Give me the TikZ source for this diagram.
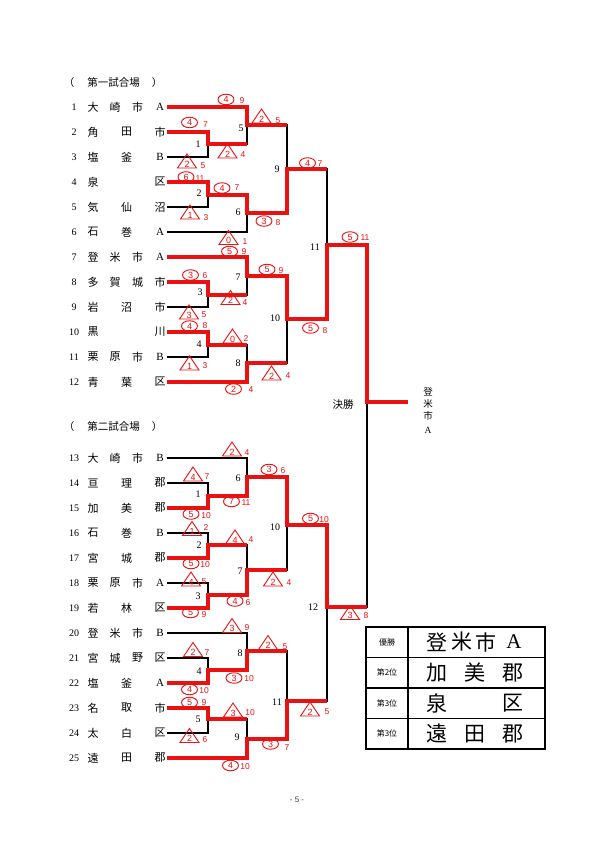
\documentclass[tikz,border=0pt]{standalone}
\usepackage{fontspec}
\setmainfont{Liberation Serif}
\newfontfamily\jpf{Noto Sans CJK JP}
\newfontfamily\rsf{Liberation Sans}
\usetikzlibrary{shapes.geometric,calc}
\definecolor{rd}{RGB}{232,18,18}
\newcommand\LatA{{\rmfamily A}}
\newcommand\LatB{{\rmfamily B}}
\tikzset{
 rl/.style={draw=rd, line width=3.6pt},
 bl/.style={draw=black, line width=1.6pt},
 nm/.style={font=\jpf\fontsize{11}{11}\selectfont, inner sep=0pt},
 no/.style={font=\fontsize{10}{10}\selectfont, inner sep=0pt},
 ml/.style={font=\fontsize{10}{10}\selectfont, inner sep=0pt},
 hd/.style={font=\jpf\fontsize{10.5}{10.5}\selectfont, inner sep=0pt},
 cn/.style={ellipse, draw=rd, line width=0.9pt, minimum width=16pt, minimum height=10.5pt, inner sep=0pt, text=rd, font=\rsf\fontsize{9}{9}\selectfont},
 tn/.style={inner sep=0pt, text=rd, font=\rsf\fontsize{9}{9}\selectfont},
 trl/.style={draw=rd, line width=0.9pt, line join=miter},
 sn/.style={inner sep=0pt, text=rd, font=\rsf\fontsize{8.5}{8.5}\selectfont},
 tbl/.style={draw=black, line width=1.8pt},
 tl/.style={font=\jpf\fontsize{8}{8}\selectfont, inner sep=0pt},
 tr/.style={font=\jpf\fontsize{21}{21}\selectfont, inner sep=0pt},
 vw/.style={font=\jpf\fontsize{9.5}{9.5}\selectfont, inner sep=0pt},
}
\newcommand\ScCirc[7]{\node[cn] (#1) at (#2,#3) {#4}; \node[sn] (#1s) at (#5,#6) {#7};}
\newcommand\ScTri[7]{\node[tn,yshift=-3pt] (#1) at (#2,#3) {#4};
 \draw[trl] ([shift={(-9.5,4)}]#1.center) -- ([shift={(9.5,4)}]#1.center) -- ([shift={(0,-10)}]#1.center) -- cycle;
 \node[sn] (#1s) at (#5,#6) {#7};}
\begin{document}
\begin{tikzpicture}[x=1pt,y=-1pt]
\useasboundingbox (0,0) rectangle (595,842);
\fill[white] (0,0) rectangle (595,842);

% headers
\node[hd] (h1l) at (69,83) {（};
\node[hd] (h1) at (113.5,83) {第一試合場};
\node[hd] (h1r) at (157,83) {）};
\node[hd] (h2l) at (69,427) {（};
\node[hd] (h2) at (113.5,427) {第二試合場};
\node[hd] (h2r) at (157,427) {）};

% teams
\foreach \n/\y/\a/\b/\c/\d in {1/107/大/崎/市/\LatA, 7/257/登/米/市/\LatA, 8/282/多/賀/城/市, 11/357/栗/原/市/\LatB, 13/458/大/崎/市/\LatB, 18/583/栗/原/市/\LatA, 20/633/登/米/市/\LatB, 21/658/宮/城/野/区}{
 \node[no] (n\n) at (74,\y) {\n};
 \node[nm] (n\n-a) at (93,\y) {\a};
 \node[nm] (n\n-b) at (115,\y) {\b};
 \node[nm] (n\n-c) at (137.5,\y) {\c};
 \node[nm] (n\n-d) at (160,\y) {\d};
 \coordinate (t\n) at (167,\y);
}
\foreach \n/\y/\a/\b/\c in {2/132/角/田/市, 3/157/塩/釜/\LatB, 5/207/気/仙/沼, 6/232/石/巻/\LatA, 9/307/岩/沼/市, 12/382/青/葉/区, 14/483/亘/理/郡, 15/508/加/美/郡, 16/533/石/巻/\LatB, 17/558/宮/城/郡, 19/608/若/林/区, 22/683/塩/釜/\LatA, 23/708/名/取/市, 24/733/太/白/区, 25/758/遠/田/郡}{
 \node[no] (n\n) at (74,\y) {\n};
 \node[nm] (n\n-a) at (93,\y) {\a};
 \node[nm] (n\n-b) at (126.5,\y) {\b};
 \node[nm] (n\n-c) at (160,\y) {\c};
 \coordinate (t\n) at (167,\y);
}
\foreach \n/\y/\a/\b in {4/182/泉/区, 10/332/黒/川}{
 \node[no] (n\n) at (74,\y) {\n};
 \node[nm] (n\n-a) at (93,\y) {\a};
 \node[nm] (n\n-b) at (160,\y) {\b};
 \coordinate (t\n) at (167,\y);
}

% match points
\coordinate (A1) at (208,144);
\coordinate (A2) at (208,195);
\coordinate (A3) at (208,295);
\coordinate (A4) at (208,345);
\coordinate (A5) at (247,125);
\coordinate (A6) at (247,213);
\coordinate (A7) at (247,276);
\coordinate (A8) at (247,363);
\coordinate (A9) at (287,169);
\coordinate (A10) at (287,319);
\coordinate (A11) at (327,245);
\coordinate (F) at (367,402);
\coordinate (champ) at (408,402);
\coordinate (B1) at (208,496);
\coordinate (B2) at (208,545);
\coordinate (B3) at (208,595);
\coordinate (B4) at (208,670);
\coordinate (B5) at (208,719);
\coordinate (B6) at (247,477);
\coordinate (B7) at (247,570);
\coordinate (B8) at (247,651);
\coordinate (B9) at (247,739);
\coordinate (B10) at (287,525);
\coordinate (B11) at (287,701);
\coordinate (B12) at (327,607);

% losers
\foreach \m/\l in {A1/t3,A2/t5,A3/t9,A4/t11,A5/A1,A6/t6,A7/A3,A8/A4,A9/A5,A10/A8,A11/A9,F/B12,B1/t14,B2/t16,B3/t18,B4/t21,B5/t24,B6/t13,B7/B2,B8/t20,B9/B5,B10/B7,B11/B8,B12/B11}
 \draw[bl] (\l) -| (\m);
\foreach \m/\l in {A5/A1,A8/A4,A9/A5,A10/A8,A11/A9,F/B12,B7/B2,B9/B5,B10/B7,B11/B8,B12/B11}
 \draw[rl] (\l) -- (\l -| \m);
% winners
\foreach \m/\w/\n in {A1/t2/A5, A2/t4/A6, A3/t8/A7, A4/t10/A8, A5/t1/A9, A6/A2/A9, A7/t7/A10, A8/t12/A10, A9/A6/A11, A10/A7/A11, A11/A10/F, B1/t15/B6, B2/t17/B7, B3/t19/B7, B4/t22/B8, B5/t23/B9, B6/B1/B10, B7/B3/B10, B8/B4/B11, B9/t25/B11, B10/B6/B12, B11/B9/B12, B12/B10/F}
 \draw[rl] (\w) -| (\m) -- (\m -| \n);
\draw[rl] (A11) -| (F) -- (champ);

% match labels
\foreach \k/\x/\y/\t in {m1/198/144/1, m2/199/193/2, m3/200/292/3, m4/199/344/4, m5/241/128/5, m6/238/212/6, m7/238/277/7, m8/238/363/8, m9/277/169/9, m10/275/318/10, m11/315/247/11,
 q1/198/494/1, q2/199/545/2, q3/198/596/3, q4/199/671/4, q5/198/719/5, q6/238/478/6, q7/240/571/7, q8/240/653/8, q9/237/737/9, q10/275/527/10, q11/277/702/11, q12/313/607/12}
 \node[ml] (\k) at (\x,\y) {\t};
\node[hd] (kessho) at (343,405) {決勝};

% winner vertical
\node[vw] (w1) at (428,392) {登};
\node[vw] (w2) at (428,404) {米};
\node[vw] (w3) at (428,416) {市};
\node[vw] (w4) at (428,430) {\LatA};

% scores top
\ScCirc{a1}{226}{99.5}{4}{242}{101}{9}
\ScTri{a2}{261.5}{116}{2}{278}{121}{5}
\ScCirc{a3}{189.5}{122.5}{4}{205.5}{125}{7}
\ScTri{a4}{227.5}{151}{2}{243}{155}{4}
\ScTri{a5}{187}{161}{2}{203}{166}{5}
\ScCirc{a6}{307.5}{163}{4}{320}{164}{7}
\ScCirc{a7}{186}{177}{6}{200}{179}{11}
\ScCirc{a8}{222}{188}{4}{237}{188}{7}
\ScTri{a9}{190}{212}{1}{206}{218}{3}
\ScCirc{a10}{264}{221}{3}{278}{223}{8}
\ScTri{a11}{228.5}{237.5}{0}{245}{242}{1}
\ScCirc{a12}{350}{237}{5}{365}{238}{11}
\ScCirc{a13}{229.5}{251.5}{5}{244}{252}{9}
\ScCirc{a14}{267}{269.5}{5}{281}{271}{9}
\ScCirc{a15}{190.5}{275}{3}{205}{276}{6}
\ScTri{a16}{230.5}{297.5}{2}{245}{303}{4}
\ScTri{a17}{189}{312}{3}{204}{315}{5}
\ScCirc{a18}{189.5}{326}{4}{205}{326}{8}
\ScTri{a19}{232.5}{336}{0}{246}{339}{2}
\ScCirc{a20}{310.5}{328}{5}{325}{331}{8}
\ScTri{a21}{189.5}{363}{1}{205}{366}{3}
\ScTri{a22}{271.5}{373}{2}{288}{376}{4}
\ScCirc{a23}{233.5}{389}{2}{251}{390}{4}
% scores bottom
\ScTri{b1}{232}{449}{2}{247}{453}{4}
\ScCirc{b2}{269}{469.5}{3}{283}{471}{6}
\ScTri{b3}{193}{474}{4}{207}{477}{7}
\ScCirc{b4}{231.5}{501.5}{7}{246}{503}{11}
\ScCirc{b5}{191}{514}{5}{206}{516}{10}
\ScCirc{b6}{310.5}{518.5}{5}{324}{520}{10}
\ScTri{b7}{192}{528.5}{1}{206}{528}{2}
\ScTri{b8}{235}{537}{4}{251}{540}{4}
\ScCirc{b9}{191}{563.5}{5}{205}{565}{10}
\ScTri{b10}{191}{579}{4}{204}{582}{5}
\ScTri{b11}{273}{579}{2}{289}{583}{4}
\ScCirc{b12}{235}{601}{4}{248}{603}{6}
\ScCirc{b13}{190.5}{612.5}{5}{204}{615}{9}
\ScTri{b14}{232}{625.5}{3}{247}{628}{9}
\ScTri{b15}{268}{642.5}{2}{285}{647}{5}
\ScTri{b16}{193}{649.5}{2}{207}{653}{7}
\ScCirc{b17}{234}{678}{3}{249}{679}{10}
\ScCirc{b18}{189.5}{689.5}{4}{204}{691}{10}
\ScTri{b19}{310}{709}{2}{327}{712}{5}
\ScCirc{b20}{189.5}{702.5}{5}{204}{703}{9}
\ScTri{b21}{233}{710}{3}{250}{713}{10}
\ScTri{b22}{189.5}{735.5}{2}{205}{740}{6}
\ScCirc{b23}{270.5}{744}{3}{287}{748}{7}
\ScCirc{b24}{230.5}{765.5}{4}{245}{767}{10}
\ScTri{b25}{350}{612.5}{3}{366}{616}{8}

% results table
\draw[tbl] (366,627) rectangle (545,749);
\draw[tbl] (408,627) -- (408,749);
\foreach \yy in {657.5,688,718.5} \draw[tbl] (366,\yy) -- (545,\yy);
\node[tl] (r1) at (387,642) {優勝};
\node[tl] (r2) at (387,672.75) {第2位};
\node[tl] (r3) at (387,703.25) {第3位};
\node[tl] (r4) at (387,733.75) {第3位};
\node[tr] (p1a) at (437,642) {登};
\node[tr] (p1b) at (462,642) {米};
\node[tr] (p1c) at (486,642) {市};
\node[tr] (p1d) at (514,642) {\LatA};
\node[tr] (p2a) at (437,672.75) {加};
\node[tr] (p2b) at (475,672.75) {美};
\node[tr] (p2c) at (513,672.75) {郡};
\node[tr] (p3a) at (437,703.25) {泉};
\node[tr] (p3b) at (513,703.25) {区};
\node[tr] (p4a) at (437,733.75) {遠};
\node[tr] (p4b) at (475,733.75) {田};
\node[tr] (p4c) at (513,733.75) {郡};

% page number
\node[font=\rsf\fontsize{8}{8}\selectfont, text=black!75, inner sep=0pt] (pg) at (297,800) {- 5 -};
\end{tikzpicture}
\end{document}
